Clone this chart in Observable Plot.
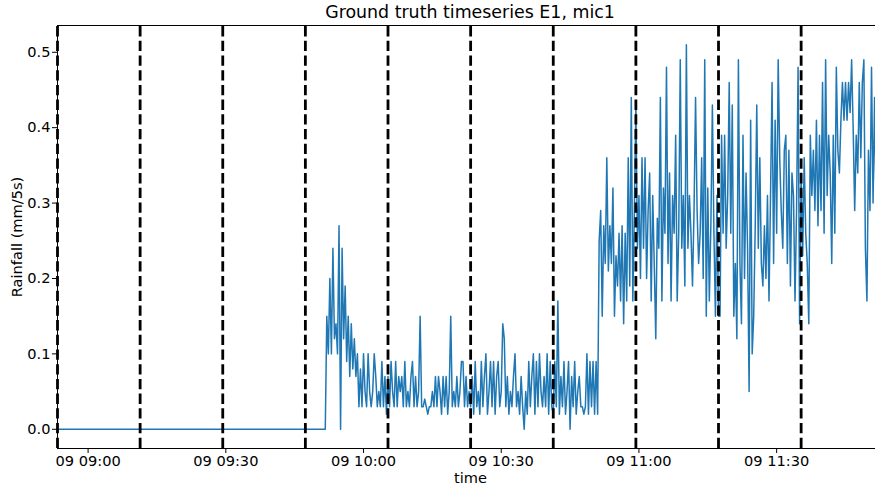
<!DOCTYPE html>
<html>
<head>
<meta charset="utf-8">
<script src="https://cdn.jsdelivr.net/npm/d3@7"></script>
<script src="https://cdn.jsdelivr.net/npm/@observablehq/plot@0.6"></script>
<style>
  html, body { margin: 0; padding: 0; background: #fff; }
  #title {
    box-sizing: border-box;
    height: 20px;
    padding-top: 4px;
    margin-left: 57px;
    width: 826px;
    font: 17.4px "DejaVu Sans", sans-serif;
    line-height: 1;
    text-align: center;
    color: #000;
    white-space: nowrap;
  }
</style>
</head>
<body>
<div id="title">Ground truth timeseries E1, mic1</div>
<div id="chart"></div>
<script>
// Recording day and event boundaries (vertical dashed lines)
const day = "2021-06-09";
const eventStarts = ["08:53:20", "09:11:20", "09:29:20", "09:47:20", "10:05:20",
                     "10:23:20", "10:41:20", "10:59:20", "11:17:20", "11:35:20"];
const viewEnd = "11:51:32";
const xTickTimes = ["09:00:00", "09:30:00", "10:00:00", "10:30:00", "11:00:00", "11:30:00"];
const yTickValues = [0, 0.1, 0.2, 0.3, 0.4, 0.5];
const yRange = [-0.0255, 0.5355];

// Dry period before the rain starts (rainfall 0)
const dryTimes = ["08:53:20", "09:51:40"];

// Rainfall (mm/5s) sampled every 20 s, starting at wetStart
const wetStart = "09:52:00";
const stepSeconds = 20;
const rainFrom0952 = [0.15,0.10,0.20,0.10,0.24,0.12,0.14,0.10,0.27,0.00,
  0.24,0.12,0.19,0.09,0.15,0.07,0.14,0.08,0.12,0.07,
  0.10,0.03,0.08,0.03,0.10,0.05,0.03,0.10,0.05,0.03,
  0.05,0.10,0.07,0.03,0.05,0.03,0.09,0.03,0.07,0.02];
const rainFrom1005 = [0.07,0.03,0.09,0.05,0.03,0.09,0.03,0.07,0.05,0.07,
  0.03,0.09,0.03,0.05,0.03,0.07,0.09,0.03,0.07,0.03,
  0.05,0.15,0.03,0.03,0.04,0.03,0.02,0.03,0.03,0.05,
  0.03,0.07,0.03,0.07,0.05,0.02,0.07,0.03,0.07,0.02,
  0.05,0.15,0.03,0.05,0.03,0.07,0.03,0.05,0.09,0.09,
  0.03,0.07,0.03,0.05];
const rainFrom1023 = [0.03,0.07,0.02,0.09,0.03,0.05,0.02,0.09,0.03,0.07,
  0.10,0.02,0.05,0.09,0.03,0.09,0.02,0.07,0.09,0.03,
  0.05,0.14,0.12,0.03,0.07,0.02,0.05,0.03,0.07,0.10,
  0.03,0.05,0.02,0.07,0.03,0.00,0.05,0.02,0.09,0.03,
  0.07,0.10,0.02,0.09,0.03,0.10,0.05,0.03,0.07,0.03,
  0.10,0.02,0.09,0.03];
const rainFrom1041 = [0.02,0.09,0.03,0.17,0.02,0.07,0.03,0.09,0.02,0.05,
  0.09,0.00,0.07,0.03,0.09,0.02,0.05,0.07,0.03,0.03,
  0.02,0.03,0.10,0.02,0.09,0.03,0.09,0.02,0.09,0.02,
  0.25,0.29,0.15,0.27,0.22,0.36,0.21,0.27,0.22,0.32,
  0.15,0.23,0.19,0.26,0.17,0.27,0.14,0.26,0.17,0.36,
  0.19,0.44,0.17,0.29];
const rainFrom1059 = [0.43,0.24,0.31,0.20,0.36,0.24,0.36,0.20,0.29,0.34,
  0.17,0.31,0.22,0.12,0.28,0.24,0.44,0.17,0.32,0.26,
  0.48,0.22,0.34,0.17,0.31,0.26,0.39,0.17,0.26,0.49,
  0.24,0.31,0.19,0.51,0.24,0.31,0.26,0.19,0.29,0.44,
  0.29,0.22,0.26,0.36,0.20,0.49,0.15,0.32,0.17,0.27,
  0.43,0.26,0.15,0.31];
const rainFrom1117 = [0.15,0.15,0.39,0.26,0.39,0.24,0.31,0.46,0.26,0.43,
  0.15,0.22,0.12,0.49,0.22,0.14,0.39,0.20,0.34,0.24,
  0.05,0.41,0.10,0.15,0.27,0.43,0.24,0.36,0.22,0.19,
  0.27,0.20,0.31,0.17,0.31,0.46,0.22,0.41,0.26,0.49,
  0.36,0.29,0.24,0.37,0.39,0.22,0.37,0.19,0.34,0.31,
  0.17,0.29,0.48,0.14];
const rainFrom1135 = [0.34,0.23,0.36,0.26,0.22,0.14,0.39,0.31,0.37,0.29,
  0.41,0.27,0.39,0.29,0.46,0.26,0.49,0.31,0.39,0.34,
  0.22,0.39,0.26,0.48,0.37,0.34,0.41,0.46,0.41,0.46,
  0.41,0.46,0.42,0.49,0.40,0.29,0.39,0.34,0.46,0.36,
  0.46,0.49,0.24,0.17,0.37,0.29,0.48,0.30,0.44,0.29];

const parseTime = d3.utcParse("%Y-%m-%d %H:%M:%S");
const at = (hms) => parseTime(`${day} ${hms}`);

const wetValues = [].concat(rainFrom0952, rainFrom1005, rainFrom1023, rainFrom1041,
                            rainFrom1059, rainFrom1117, rainFrom1135);
const t0 = at(wetStart);
const series = [
  ...dryTimes.map(s => ({t: at(s), v: 0})),
  ...wetValues.map((v, i) => ({t: d3.utcSecond.offset(t0, i * stepSeconds), v}))
];

const xDomain = [at(eventStarts[0]), at(viewEnd)];
const events = eventStarts.map(at);

const chart = Plot.plot({
  width: 875,
  height: 466,
  marginLeft: 57,
  marginRight: 0,
  marginTop: 5,
  marginBottom: 38,
  style: {fontFamily: "DejaVu Sans, sans-serif", fontSize: "14.6px", color: "#000",
          background: "#fff", overflow: "visible"},
  x: {type: "utc", domain: xDomain},
  y: {domain: yRange},
  marks: [
    Plot.lineY(series, {x: "t", y: "v", stroke: "#1f77b4", strokeWidth: 1.5, clip: true}),
    Plot.ruleX(events, {x: d => d, y1: yRange[0], y2: yRange[1], stroke: "#000",
                        strokeWidth: 2.8, strokeDasharray: "10.3,4.4"}),
    // axes frame: left, bottom, top spines
    Plot.ruleY([yRange[1]], {stroke: "#000", strokeWidth: 1}),
    Plot.ruleY([yRange[0]], {stroke: "#000", strokeWidth: 1}),
    Plot.ruleX([xDomain[0]], {stroke: "#000", strokeWidth: 1}),
    Plot.axisX({ticks: xTickTimes.map(at), tickFormat: d3.utcFormat("%d %H:%M"),
                tickSize: 5, tickPadding: 2, label: null}),
    Plot.axisY({ticks: yTickValues, tickFormat: d3.format(".1f"),
                tickSize: 5, tickPadding: 2, label: null}),
    Plot.text(["time"], {text: d => d, frameAnchor: "bottom", textAnchor: "middle",
                         lineAnchor: "middle", dx: 4, dy: 29.5, fontSize: 14.6, fill: "#000"}),
    Plot.text(["Rainfall (mm/5s)"], {text: d => d, frameAnchor: "left", rotate: -90,
                                     textAnchor: "middle", lineAnchor: "middle",
                                     dx: -40, fontSize: 14.6, fill: "#000"})
  ]
});
document.getElementById("chart").appendChild(chart);
</script>
</body>
</html>
